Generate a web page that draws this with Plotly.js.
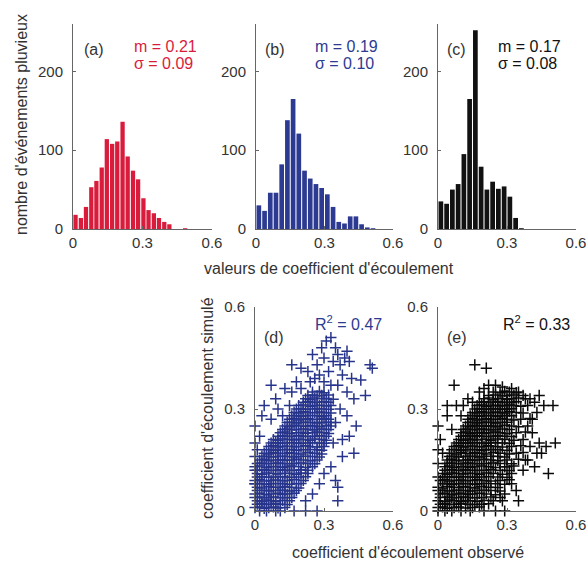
<!DOCTYPE html>
<html><head><meta charset="utf-8">
<script src="https://cdn.plot.ly/plotly-3.0.1.min.js"></script>
<style>html,body{margin:0;padding:0;background:#fff}#chart{width:587px;height:561px}</style>
</head><body><div id="chart"></div>
<script>
// ---------- histogram data ----------
const binsA = [0.011,0.034,0.056,0.079,0.101,0.124,0.146,0.169,0.191,0.214,0.236,0.259,0.281,0.304,0.326,0.349,0.371,0.394,0.416,0.439,0.461,0.484];
const countsA = [18,14,28,53,61,78,114,108,111,136,92,74,63,39,24,20,14,9,6,0,0,1];
const binsB = [0.0125,0.0375,0.0625,0.0875,0.1125,0.1375,0.1625,0.1875,0.2125,0.2375,0.2625,0.2875,0.3125,0.3375,0.3625,0.3875,0.4125,0.4375,0.4625,0.4875,0.5125];
const countsB = [30,23,46,46,82,138,165,121,74,64,57,52,44,28,9,7,16,16,6,2,1];
const binsC = [0.0125,0.0375,0.0625,0.0875,0.1125,0.1375,0.1625,0.1875,0.2125,0.2375,0.2625,0.2875,0.3125,0.3375,0.3625];
const countsC = [35,32,50,57,95,165,252,79,50,60,51,54,41,14,1];
const histTicks = [0,100,200];
const xTicks = [0,0.3,0.6];
const xTickText = ['0','0.3','0.6'];
const statsA = ['m = 0.21','σ = 0.09'];
const statsB = ['m = 0.19','σ = 0.10'];
const statsC = ['m = 0.17','σ = 0.08'];
const r2D = '0.47', r2E = '0.33';

// ---------- scatter data (observed, simulated) ----------
const ptsD = [
[0.00,0.010],[0.02,0.012],[0.04,0.008],[0.06,0.010],[0.08,0.012],[0.10,0.009],[0.13,0.010],
[0.01,0.030],[0.03,0.028],[0.05,0.032],[0.07,0.030],[0.09,0.028],[0.12,0.031],[0.15,0.030],
[0.00,0.050],[0.02,0.052],[0.05,0.048],[0.07,0.050],[0.10,0.052],[0.12,0.049],[0.14,0.050],[0.17,0.052],
[0.01,0.070],[0.03,0.068],[0.06,0.072],[0.08,0.070],[0.11,0.069],[0.13,0.071],[0.16,0.070],[0.19,0.068],
[0.00,0.090],[0.02,0.092],[0.04,0.088],[0.07,0.090],[0.09,0.091],[0.12,0.089],[0.14,0.090],[0.17,0.092],[0.21,0.090],
[0.01,0.110],[0.03,0.108],[0.05,0.112],[0.08,0.110],[0.10,0.109],[0.13,0.111],[0.15,0.110],[0.18,0.108],[0.20,0.112],[0.23,0.110],
[0.00,0.130],[0.02,0.132],[0.05,0.128],[0.07,0.130],[0.09,0.131],[0.12,0.129],[0.14,0.130],[0.16,0.132],[0.19,0.130],[0.22,0.128],[0.25,0.130],
[0.02,0.150],[0.04,0.152],[0.06,0.148],[0.09,0.150],[0.11,0.151],[0.13,0.149],[0.16,0.150],[0.18,0.152],[0.21,0.150],[0.24,0.148],[0.27,0.150],
[0.04,0.170],[0.06,0.168],[0.08,0.172],[0.10,0.170],[0.13,0.169],[0.15,0.171],[0.17,0.170],[0.20,0.168],[0.23,0.172],[0.26,0.170],[0.29,0.168],
[0.06,0.190],[0.08,0.192],[0.10,0.188],[0.12,0.190],[0.14,0.191],[0.17,0.189],[0.19,0.190],[0.22,0.192],[0.24,0.190],[0.27,0.188],[0.30,0.190],
[0.08,0.210],[0.10,0.208],[0.12,0.212],[0.15,0.210],[0.17,0.209],[0.19,0.211],[0.21,0.210],[0.24,0.208],[0.26,0.212],[0.29,0.210],[0.31,0.208],
[0.11,0.230],[0.13,0.232],[0.15,0.228],[0.18,0.230],[0.20,0.231],[0.22,0.229],[0.25,0.230],[0.27,0.232],[0.30,0.230],[0.32,0.228],
[0.13,0.250],[0.15,0.248],[0.17,0.252],[0.19,0.250],[0.22,0.249],[0.24,0.251],[0.26,0.250],[0.28,0.248],[0.31,0.252],[0.33,0.250],
[0.15,0.270],[0.17,0.272],[0.19,0.268],[0.21,0.270],[0.23,0.271],[0.25,0.269],[0.28,0.270],[0.30,0.272],[0.32,0.270],
[0.17,0.290],[0.19,0.288],[0.21,0.292],[0.23,0.290],[0.26,0.289],[0.28,0.291],[0.30,0.290],[0.33,0.288],
[0.19,0.310],[0.21,0.312],[0.24,0.308],[0.26,0.310],[0.28,0.311],[0.31,0.309],[0.33,0.310],
[0.22,0.330],[0.24,0.328],[0.26,0.332],[0.29,0.330],[0.31,0.331],[0.34,0.329],
[0.25,0.350],[0.28,0.352],[0.30,0.348]
];
const ptsD2 = [
[0.01,0.02],[0.03,0.021],[0.05,0.019],[0.07,0.02],[0.09,0.021],[0.11,0.02],[0.14,0.019],
[0.00,0.04],[0.02,0.041],[0.04,0.039],[0.06,0.04],[0.08,0.041],[0.11,0.04],[0.13,0.039],[0.16,0.04],
[0.01,0.06],[0.04,0.061],[0.06,0.059],[0.09,0.06],[0.11,0.061],[0.13,0.06],[0.15,0.059],[0.18,0.06],
[0.00,0.08],[0.02,0.081],[0.05,0.079],[0.07,0.08],[0.10,0.081],[0.12,0.08],[0.15,0.079],[0.18,0.08],[0.20,0.081],
[0.01,0.10],[0.03,0.101],[0.06,0.099],[0.08,0.10],[0.11,0.101],[0.13,0.10],[0.16,0.099],[0.19,0.10],[0.22,0.101],
[0.01,0.12],[0.04,0.121],[0.06,0.119],[0.09,0.12],[0.11,0.121],[0.13,0.12],[0.15,0.119],[0.17,0.12],[0.20,0.121],[0.23,0.12],
[0.01,0.14],[0.03,0.141],[0.05,0.139],[0.08,0.14],[0.10,0.141],[0.12,0.14],[0.15,0.139],[0.17,0.14],[0.20,0.141],[0.23,0.14],[0.26,0.139],
[0.03,0.16],[0.05,0.161],[0.07,0.159],[0.10,0.16],[0.12,0.161],[0.14,0.16],[0.17,0.159],[0.19,0.16],[0.22,0.161],[0.25,0.16],[0.28,0.159],
[0.05,0.18],[0.07,0.181],[0.09,0.179],[0.11,0.18],[0.14,0.181],[0.16,0.18],[0.18,0.179],[0.21,0.18],[0.24,0.181],[0.27,0.18],[0.29,0.179],
[0.07,0.20],[0.09,0.201],[0.11,0.199],[0.13,0.20],[0.16,0.201],[0.18,0.20],[0.20,0.199],[0.23,0.20],[0.25,0.201],[0.28,0.20],[0.30,0.199],
[0.10,0.22],[0.12,0.221],[0.14,0.219],[0.16,0.22],[0.19,0.221],[0.21,0.22],[0.23,0.219],[0.26,0.22],[0.28,0.221],[0.31,0.22],
[0.12,0.24],[0.14,0.241],[0.16,0.239],[0.18,0.24],[0.21,0.241],[0.23,0.24],[0.25,0.239],[0.27,0.24],[0.29,0.241],[0.32,0.24],
[0.14,0.26],[0.16,0.261],[0.18,0.259],[0.20,0.26],[0.22,0.261],[0.25,0.26],[0.27,0.259],[0.29,0.26],[0.31,0.261],[0.33,0.26],
[0.16,0.28],[0.18,0.281],[0.20,0.279],[0.22,0.28],[0.24,0.281],[0.27,0.28],[0.29,0.279],[0.31,0.28],
[0.18,0.30],[0.20,0.301],[0.22,0.299],[0.25,0.30],[0.27,0.301],[0.29,0.30],[0.32,0.299],
[0.21,0.32],[0.23,0.321],[0.25,0.319],[0.27,0.32],[0.30,0.321],[0.32,0.32],
[0.23,0.34],[0.25,0.341],[0.27,0.339],[0.29,0.34],[0.32,0.341]
];
const ptsD3 = [
[0.02,0.0],[0.05,0.0],[0.09,0.0],[0.11,0.0],[0.17,0.0],[0.22,0.0],[0.27,0.0],
[0.0,0.08],[0.0,0.12],[0.0,0.16],[0.0,0.20],[0.0,0.25],[0.01,0.18],[0.02,0.22],[0.04,0.31],[0.07,0.27],[0.07,0.37],[0.03,0.28],
[0.36,0.07],[0.36,0.03],[0.35,0.09],[0.25,0.05],[0.22,0.03],[0.28,0.08],[0.30,0.11],[0.33,0.13],[0.38,0.16],[0.43,0.17],
[0.34,0.20],[0.38,0.21],[0.41,0.22],[0.44,0.25],[0.35,0.26],[0.40,0.28],[0.37,0.30],
[0.10,0.30],[0.13,0.36],[0.16,0.35],[0.12,0.28],[0.09,0.33],[0.18,0.38],[0.20,0.36],[0.15,0.31],
[0.16,0.43],[0.20,0.42],[0.23,0.41],[0.25,0.46],[0.27,0.43],[0.28,0.40],[0.30,0.38],[0.32,0.41],[0.30,0.45],
[0.31,0.50],[0.33,0.51],[0.35,0.48],[0.36,0.46],[0.34,0.44],[0.37,0.43],[0.39,0.45],[0.40,0.47],[0.41,0.44],
[0.38,0.40],[0.42,0.39],[0.46,0.385],[0.50,0.43],[0.48,0.34],[0.43,0.33],[0.40,0.35],[0.36,0.37],[0.33,0.37],
[0.51,0.42],[0.29,0.48],[0.26,0.39],[0.24,0.38]
];
const ptsE = [
[0.00,0.010],[0.02,0.012],[0.04,0.008],[0.07,0.010],[0.09,0.012],[0.12,0.009],[0.15,0.010],[0.18,0.012],
[0.00,0.030],[0.03,0.028],[0.05,0.032],[0.07,0.030],[0.10,0.028],[0.12,0.031],[0.14,0.030],[0.17,0.029],[0.20,0.031],[0.24,0.030],
[0.01,0.050],[0.03,0.052],[0.06,0.048],[0.08,0.050],[0.10,0.052],[0.13,0.049],[0.15,0.050],[0.18,0.052],[0.21,0.050],[0.25,0.048],[0.29,0.050],
[0.00,0.070],[0.02,0.068],[0.04,0.072],[0.07,0.070],[0.09,0.069],[0.11,0.071],[0.14,0.070],[0.16,0.068],[0.19,0.072],[0.22,0.070],[0.26,0.069],
[0.01,0.090],[0.03,0.092],[0.05,0.088],[0.08,0.090],[0.10,0.091],[0.12,0.089],[0.15,0.090],[0.17,0.092],[0.20,0.090],[0.23,0.088],[0.27,0.090],[0.31,0.092],
[0.02,0.110],[0.04,0.108],[0.06,0.112],[0.09,0.110],[0.11,0.109],[0.13,0.111],[0.16,0.110],[0.18,0.108],[0.21,0.112],[0.24,0.110],[0.28,0.108],[0.32,0.110],
[0.03,0.130],[0.05,0.132],[0.07,0.128],[0.10,0.130],[0.12,0.131],[0.14,0.129],[0.16,0.130],[0.19,0.132],[0.22,0.130],[0.25,0.128],[0.29,0.130],[0.33,0.132],
[0.04,0.150],[0.06,0.152],[0.08,0.148],[0.11,0.150],[0.13,0.151],[0.15,0.149],[0.17,0.150],[0.20,0.152],[0.23,0.150],[0.26,0.148],[0.30,0.150],[0.35,0.152],[0.38,0.150],
[0.05,0.170],[0.08,0.168],[0.10,0.172],[0.12,0.170],[0.14,0.169],[0.16,0.171],[0.19,0.170],[0.21,0.168],[0.24,0.172],[0.27,0.170],[0.31,0.168],[0.34,0.170],[0.37,0.172],
[0.07,0.190],[0.09,0.192],[0.11,0.188],[0.13,0.190],[0.15,0.191],[0.18,0.189],[0.20,0.190],[0.22,0.192],[0.25,0.190],[0.28,0.188],[0.32,0.190],[0.36,0.192],[0.40,0.190],
[0.09,0.210],[0.11,0.208],[0.13,0.212],[0.15,0.210],[0.17,0.209],[0.19,0.211],[0.21,0.210],[0.23,0.208],[0.26,0.212],[0.29,0.210],[0.33,0.208],[0.37,0.210],
[0.10,0.230],[0.12,0.232],[0.14,0.228],[0.16,0.230],[0.18,0.231],[0.20,0.229],[0.22,0.230],[0.25,0.232],[0.27,0.230],[0.30,0.228],[0.34,0.230],[0.38,0.232],[0.41,0.230],
[0.12,0.250],[0.14,0.248],[0.16,0.252],[0.18,0.250],[0.20,0.249],[0.22,0.251],[0.24,0.250],[0.26,0.248],[0.29,0.252],[0.32,0.250],[0.35,0.248],[0.39,0.250],
[0.13,0.270],[0.15,0.272],[0.17,0.268],[0.19,0.270],[0.21,0.271],[0.23,0.269],[0.25,0.270],[0.28,0.272],[0.30,0.270],[0.33,0.268],[0.36,0.270],[0.40,0.272],
[0.15,0.290],[0.17,0.288],[0.19,0.292],[0.21,0.290],[0.23,0.289],[0.25,0.291],[0.27,0.290],[0.29,0.288],[0.31,0.292],[0.34,0.290],[0.37,0.288],
[0.17,0.310],[0.19,0.312],[0.21,0.308],[0.23,0.310],[0.25,0.311],[0.27,0.309],[0.29,0.310],[0.31,0.312],[0.33,0.310],[0.36,0.308],[0.39,0.310],
[0.20,0.330],[0.22,0.332],[0.24,0.328],[0.26,0.330],[0.28,0.331],[0.30,0.329],[0.32,0.330],[0.35,0.332],[0.38,0.330],
[0.24,0.350],[0.27,0.348],[0.29,0.352],[0.31,0.350],[0.34,0.348]
];
const ptsE2 = [
[0.01,0.02],[0.03,0.021],[0.05,0.019],[0.08,0.02],[0.10,0.021],[0.13,0.02],[0.16,0.019],[0.19,0.02],[0.22,0.021],
[0.01,0.04],[0.04,0.041],[0.06,0.039],[0.09,0.04],[0.11,0.041],[0.13,0.04],[0.16,0.039],[0.19,0.04],[0.23,0.041],[0.27,0.04],
[0.00,0.06],[0.02,0.061],[0.05,0.059],[0.07,0.06],[0.09,0.061],[0.12,0.06],[0.14,0.059],[0.17,0.06],[0.20,0.061],[0.23,0.06],[0.27,0.059],
[0.02,0.08],[0.04,0.081],[0.06,0.079],[0.09,0.08],[0.11,0.081],[0.13,0.08],[0.16,0.079],[0.18,0.08],[0.21,0.081],[0.25,0.08],[0.29,0.079],
[0.02,0.10],[0.05,0.101],[0.07,0.099],[0.09,0.10],[0.11,0.101],[0.14,0.10],[0.16,0.099],[0.19,0.10],[0.22,0.101],[0.26,0.10],[0.30,0.099],
[0.03,0.12],[0.06,0.121],[0.08,0.119],[0.11,0.12],[0.12,0.121],[0.15,0.12],[0.17,0.119],[0.20,0.12],[0.23,0.121],[0.27,0.12],[0.31,0.119],
[0.04,0.14],[0.06,0.141],[0.09,0.139],[0.11,0.14],[0.13,0.141],[0.15,0.14],[0.18,0.139],[0.21,0.14],[0.24,0.141],[0.27,0.14],[0.32,0.139],
[0.05,0.16],[0.07,0.161],[0.09,0.159],[0.12,0.16],[0.14,0.161],[0.16,0.16],[0.18,0.159],[0.20,0.16],[0.23,0.161],[0.26,0.16],[0.29,0.159],
[0.06,0.18],[0.08,0.181],[0.10,0.179],[0.12,0.18],[0.15,0.181],[0.17,0.18],[0.19,0.179],[0.21,0.18],[0.23,0.181],[0.26,0.18],[0.30,0.179],
[0.08,0.20],[0.10,0.201],[0.12,0.199],[0.14,0.20],[0.16,0.201],[0.19,0.20],[0.21,0.199],[0.23,0.20],[0.25,0.201],[0.28,0.20],[0.31,0.199],
[0.10,0.22],[0.12,0.221],[0.14,0.219],[0.15,0.22],[0.17,0.221],[0.19,0.22],[0.22,0.219],[0.24,0.22],[0.26,0.221],[0.29,0.22],[0.32,0.219],
[0.11,0.24],[0.13,0.241],[0.15,0.239],[0.17,0.24],[0.19,0.241],[0.21,0.24],[0.23,0.239],[0.25,0.24],[0.28,0.241],[0.31,0.24],
[0.13,0.26],[0.15,0.261],[0.17,0.259],[0.19,0.26],[0.21,0.261],[0.23,0.26],[0.25,0.259],[0.27,0.26],[0.30,0.261],
[0.14,0.28],[0.16,0.281],[0.18,0.279],[0.20,0.28],[0.22,0.281],[0.24,0.28],[0.26,0.279],[0.28,0.28],[0.30,0.281],[0.32,0.28],
[0.16,0.30],[0.18,0.301],[0.20,0.299],[0.22,0.30],[0.24,0.301],[0.26,0.30],[0.28,0.299],[0.30,0.30],[0.32,0.301],
[0.18,0.32],[0.20,0.321],[0.22,0.319],[0.24,0.32],[0.26,0.321],[0.28,0.32],[0.30,0.319],[0.32,0.32],[0.34,0.321],
[0.22,0.34],[0.25,0.341],[0.28,0.339],[0.30,0.34],[0.33,0.341]
];
const ptsE3 = [
[0.00,0.0],[0.03,0.0],[0.06,0.0],[0.10,0.0],[0.14,0.0],[0.20,0.0],[0.25,0.0],[0.29,0.0],
[0.00,0.10],[0.00,0.14],[0.00,0.18],[0.00,0.25],[0.02,0.17],[0.01,0.21],[0.04,0.28],[0.04,0.31],[0.07,0.37],[0.10,0.28],[0.06,0.24],[0.08,0.31],
[0.16,0.43],[0.21,0.42],
[0.11,0.31],[0.13,0.33],[0.15,0.32],[0.18,0.35],[0.20,0.36],[0.22,0.37],[0.25,0.37],[0.28,0.365],[0.32,0.36],[0.35,0.35],[0.37,0.34],
[0.40,0.33],[0.42,0.32],[0.44,0.34],[0.46,0.31],[0.50,0.31],[0.43,0.29],[0.41,0.27],[0.44,0.20],[0.47,0.19],[0.43,0.17],[0.45,0.17],
[0.42,0.13],[0.48,0.11],[0.51,0.20],[0.39,0.15],[0.37,0.12],[0.34,0.06],[0.35,0.03],[0.32,0.08],[0.28,0.03],[0.30,0.13]
];

// ---------- styling ----------
const W = 587, H = 561;
const FONT = 'Liberation Sans, Arial, Helvetica, sans-serif';
const RED = '#da1c3c', BLUE = '#27348b', BLACK = '#0a0a0a', TXT = '#333333', AX = '#666666';
const px = v => v / W, py = v => 1 - v / H;

function axisBase(extra) {
  return Object.assign({
    showline: true, linecolor: AX, linewidth: 1, mirror: false,
    showgrid: false, zeroline: false, ticks: 'inside', ticklen: 3, tickcolor: AX,
    tickfont: {family: FONT, size: 15, color: TXT}, fixedrange: true
  }, extra);
}

const histX = (dom, anchor) => axisBase({domain: dom, anchor: anchor, range: [0, 0.6], tickvals: xTicks, ticktext: xTickText});
const histY = (dom, anchor) => axisBase({domain: dom, anchor: anchor, range: [0, 260], tickvals: histTicks, ticklabelstandoff: 6});
const sctX = (dom, anchor) => axisBase({domain: dom, anchor: anchor, range: [0, 0.6], tickvals: xTicks, ticktext: xTickText});
const sctY = (dom, anchor) => axisBase({domain: dom, anchor: anchor, range: [0, 0.6], tickvals: xTicks, ticktext: xTickText, ticklabelstandoff: 6});

const histYdom = [py(229), py(24)];
const sctYdom = [py(511), py(307)];

const allD = ptsD.concat(ptsD2, ptsD3);
const allE = ptsE.concat(ptsE2, ptsE3);

const traces = [
  {type: 'bar', x: binsA, y: countsA, width: 0.0185, marker: {color: RED, line: {width: 0}}, xaxis: 'x', yaxis: 'y', hoverinfo: 'none'},
  {type: 'bar', x: binsB, y: countsB, width: 0.0205, marker: {color: '#2c3a92', line: {width: 0}}, xaxis: 'x2', yaxis: 'y2', hoverinfo: 'none'},
  {type: 'bar', x: binsC, y: countsC, width: 0.0205, marker: {color: '#111111', line: {width: 0}}, xaxis: 'x3', yaxis: 'y3', hoverinfo: 'none'},
  {type: 'scatter', mode: 'markers', x: allD.map(p => p[0]), y: allD.map(p => p[1]), xaxis: 'x4', yaxis: 'y4', cliponaxis: false,
   marker: {symbol: 'cross-thin-open', size: 8, color: BLUE, line: {color: BLUE, width: 1.5}}, hoverinfo: 'none'},
  {type: 'scatter', mode: 'markers', x: allE.map(p => p[0]), y: allE.map(p => p[1]), xaxis: 'x5', yaxis: 'y5', cliponaxis: false,
   marker: {symbol: 'cross-thin-open', size: 8, color: BLACK, line: {color: BLACK, width: 1.5}}, hoverinfo: 'none'}
];

function ann(text, x, y, color, size, extra) {
  return Object.assign({text: text, xref: 'paper', yref: 'paper', x: px(x), y: py(y), xanchor: 'left', yanchor: 'middle',
    showarrow: false, align: 'left', font: {family: FONT, size: size || 16, color: color || TXT}}, extra || {});
}

const annotations = [
  ann('(a)', 82, 50), ann(statsA[0], 132, 46, RED), ann(statsA[1], 132, 63, RED),
  ann('(b)', 263, 50), ann(statsB[0], 313, 46, '#2c3a92'), ann(statsB[1], 313, 63, '#2c3a92'),
  ann('(c)', 445, 50), ann(statsC[0], 496, 46, '#111111'), ann(statsC[1], 496, 63, '#111111'),
  ann('(d)', 262, 337), ann('R<sup>2</sup> = ' + r2D, 313, 323, '#2c3a92'),
  ann('(e)', 445, 337), ann('R<sup>2</sup> = ' + r2E, 501, 323, '#111111'),
  ann("valeurs de coefficient d'écoulement", 329, 268, TXT, 16, {xanchor: 'center'}),
  ann("coefficient d'écoulement observé", 408, 552, TXT, 16, {xanchor: 'center'}),
  ann("nombre d'événements pluvieux", 22, 125, TXT, 16, {xanchor: 'center', textangle: -90}),
  ann("coefficient d'écoulement simulé", 207, 408, TXT, 16, {xanchor: 'center', textangle: -90})
];

const layout = {
  width: W, height: H, margin: {l: 0, r: 0, t: 0, b: 0},
  paper_bgcolor: '#fff', plot_bgcolor: 'rgba(0,0,0,0)', showlegend: false,
  xaxis: histX([px(73), px(212)], 'y'), yaxis: histY(histYdom, 'x'),
  xaxis2: histX([px(256), px(393)], 'y2'), yaxis2: histY(histYdom, 'x2'),
  xaxis3: histX([px(438), px(576)], 'y3'), yaxis3: histY(histYdom, 'x3'),
  xaxis4: sctX([px(255), px(393)], 'y4'), yaxis4: sctY(sctYdom, 'x4'),
  xaxis5: sctX([px(438), px(576)], 'y5'), yaxis5: sctY(sctYdom, 'x5'),
  annotations: annotations
};

Plotly.newPlot('chart', traces, layout, {displayModeBar: false, staticPlot: true});
</script></body></html>
